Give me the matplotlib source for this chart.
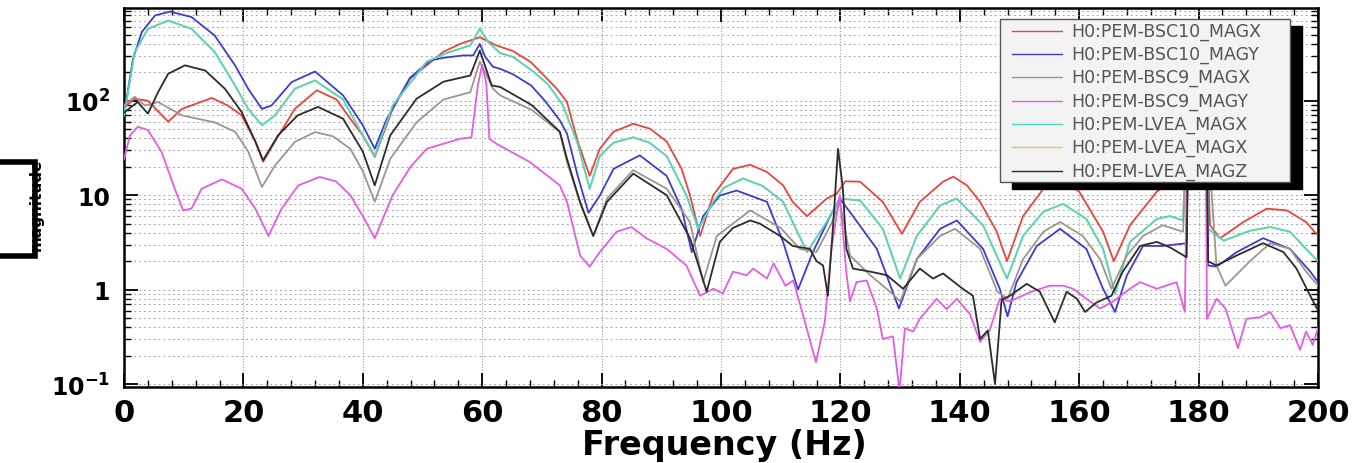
import numpy as np
import matplotlib.pyplot as plt
from matplotlib.patches import Rectangle
from matplotlib.ticker import MultipleLocator, LogLocator, FuncFormatter, NullFormatter

plt.rcParams['font.family'] = ['DejaVu Sans']
plt.rcParams['mathtext.default'] = 'bf'

# ---- valores: frequencia (Hz) e magnitude ----
freq_bsc10_x = [0, 1.8, 4, 7.4, 9.7, 14.7, 17.4, 19.7, 22, 23.3, 25.3, 28.6, 32.3, 35.6, 37.9, 40, 42,
                45, 47.9, 50.7, 53.5, 56.3, 58, 59.6, 62.4, 65.2, 68.2, 72.5, 74.2, 76, 78, 79.7, 82,
                85.3, 88.1, 90.9, 93.4, 94.8, 96.5, 98.7, 102, 104.9, 107.7, 110.4, 112, 114.4, 117.7,
                119.4, 120.8, 123.3, 127.1, 130.3, 133.3, 137.2, 138.9, 141.2, 143.4, 146.2, 147.9,
                150.6, 154, 157, 160, 164, 165.8, 168.5, 173, 175.5, 177.4, 178.2, 180, 181.3, 181.9,
                183.6, 187.5, 191.4, 194.8, 198, 199.7, 200]
mag_bsc10_x = [85, 105, 100, 60, 82, 107, 89, 70, 37, 22.6, 37, 82, 129, 103, 64.5, 43, 25.5,
               82, 171, 237, 330, 400, 435, 470, 385, 335, 255, 134, 97, 37, 16, 31, 47,
               57, 50.6, 37, 19, 10, 3.7, 10, 19, 21, 17.6, 12.7, 8.5, 6, 9.2,
               10.4, 14, 13.9, 8.5, 3.9, 8.5, 13.9, 15.7, 12.7, 8.5, 4.1, 2,
               6, 11.7, 15, 10.9, 4.1, 2.0, 4.8, 10.9, 14, 12, 80, 120, 80, 4.8,
               3.5, 5.2, 7.2, 6.9, 5.2, 3.9, 3.8]

freq_bsc10_y = [0, 1.5, 3, 5.2, 7.7, 11.3, 15.2, 18.6, 20.8, 23.1, 24.7, 28.1, 32, 36.7, 40, 42, 44,
                47.9, 51.3, 53.5, 56.8, 58.5, 59.6, 60.5, 61.8, 63, 65.2, 68.2, 70.5, 73, 74.2, 76,
                77.8, 79.7, 82, 86.4, 90.9, 93.4, 95.1, 97, 99.8, 102.6, 107.7, 110.4, 112.9, 115.4,
                118.3, 119.9, 122.1, 126.1, 129.8, 132.8, 136.7, 139.5, 143.9, 146.7, 148, 149.5,
                152.9, 156.8, 161.2, 164, 166, 168, 170.7, 174, 178, 178.3, 180, 181.3, 181.6, 183,
                186.4, 190.8, 195.3, 198.7, 200]
mag_bsc10_y = [70, 278, 537, 800, 880, 770, 490, 237, 134, 82, 89, 158, 204, 114, 55, 31, 64,
               175, 267, 285, 302, 302, 400, 292, 229, 218, 190, 145, 100, 62, 45, 16,
               6.5, 9.9, 19, 26.4, 16, 7.2, 2.5, 6, 9.9, 11.2, 8.5, 3.2, 1.0, 2.5,
               6, 9.2, 6, 2.7, 0.63, 2.1, 4.4, 5.4, 2.7, 1.02, 0.52, 1.2,
               2.9, 4.4, 2.7, 1.02, 0.58, 1.42, 2.9, 2.9, 3.1, 80, 120, 80, 1.8, 1.75,
               2.5, 3.5, 2.7, 1.55, 1.2]

freq_bsc9_x = [0, 1.8, 3.5, 5.7, 9.7, 15.2, 18.6, 20.8, 23.1, 25.3, 28.6, 32, 35, 37.9, 40, 42, 44.6,
               49, 53.5, 58, 59.6, 61.8, 63, 68.3, 73, 74.2, 76, 78.6, 80.9, 85.3, 90.9, 94.8, 97,
               99.3, 104.9, 110, 113.2, 116, 118.5, 119.9, 121.6, 125, 128.3, 130, 132.8, 136.7,
               139.2, 143.4, 146.3, 148, 150.6, 154, 156.8, 160.6, 163.5, 165.4, 168, 170.7, 174,
               177.4, 178.1, 180, 181.3, 183, 184.5, 188.6, 192, 195.3, 198, 200]
mag_bsc9_x = [90, 110, 89, 97, 70, 59, 47, 29, 12.2, 20.6, 36.6, 46.6, 42, 31, 18, 8.5, 24.3,
              59, 103, 123, 260, 134, 114, 80, 46.6, 22.4, 10, 3.7, 9.2, 18.4, 11.7, 5.2, 1.2,
              3.7, 6.9, 4.5, 2.7, 2.5, 5, 8.5, 2.3, 1.42, 0.95, 0.75, 2.1, 3.7,
              4.4, 2.7, 0.95, 0.8, 2.1, 4.1, 5.2, 3.7, 2.1, 1.02, 2.3, 3.7, 4.8,
              4.1, 70, 110, 70, 1.8, 1.1, 2.0, 3.1, 2.7, 1.55, 1.1]

freq_bsc9_y = [0, 1, 2.3, 4, 6.3, 8.5, 9.9, 11.3, 13, 16.4, 19.7, 22, 24.2, 26.4, 29.2, 32.8, 35.5,
               37.9, 40, 42, 45, 48, 50.7, 56.3, 58.2, 59.3, 60, 60.7, 61.2, 62.4, 68, 73, 74.2,
               76.4, 78, 79.7, 82.5, 85, 87.5, 90.9, 94.2, 96.5, 98.7, 100.3, 102, 104.3, 105.4,
               107.7, 108.8, 110.8, 112.1, 113.7, 115.9, 117.4, 118.5, 119.9, 121, 121.6, 122.7,
               124.4, 126.1, 127.1, 128.8, 129.9, 130.8, 132.2, 133.3, 136.1, 137.8, 139.5, 141.7,
               143.4, 145, 146.7, 148.4, 151.8, 155.1, 157.3, 159, 161.2, 163.5, 165.7, 168.5,
               170.2, 173, 176.3, 177.7, 178.1, 180, 181.2, 181.4, 183, 184.5, 186.6, 188, 190.3,
               192, 193.7, 195.3, 197, 198, 199.1, 200]
mag_bsc9_y = [24, 43, 53, 49, 28.6, 11.7, 6.9, 7.2, 11.7, 14.7, 11.7, 7.2, 3.7, 7.2, 12.7, 15.6, 14,
              10, 6, 3.5, 10, 20, 31, 39.6, 41, 150, 240, 150, 39.6, 35, 22.4, 12.7, 8.5,
              2.3, 1.75, 2.5, 4.1, 4.6, 3.5, 2.7, 1.8, 0.86, 1.02, 0.91, 1.55, 1.42, 1.67,
              1.31, 1.9, 1.1, 1.25, 0.55, 0.17, 0.46, 2.7, 10, 1.5, 0.75, 1.2,
              1.25, 0.63, 0.30, 0.32, 0.085, 0.39, 0.36, 0.49, 0.80, 0.62, 0.80, 0.55,
              0.28, 0.37, 0.80, 0.75, 0.94, 1.1, 1.1, 1.02, 0.80, 0.63, 0.75, 1.02,
              1.2, 1.02, 1.2, 0.58, 50, 90, 50, 0.49, 0.80, 0.63, 0.24, 0.49, 0.51,
              0.58, 0.39, 0.42, 0.23, 0.36, 0.26, 0.39]

freq_lvea_x = [0, 1.8, 4, 7.4, 11.3, 15.2, 18.6, 20.8, 23.1, 25.3, 28.6, 32, 36.7, 40, 42, 45, 50.7,
               54, 58, 59.6, 61, 63, 65.2, 68.5, 71, 73.5, 76, 78, 79.7, 82, 85.3, 88, 90.9, 94.2,
               96.2, 98.7, 100.5, 103.7, 107, 110.4, 114.4, 117.7, 119.9, 123.3, 127.1, 130, 132.8,
               136.7, 139.5, 143.9, 147.9, 150.6, 154, 157.3, 161.2, 164, 166, 168.5, 173, 175.2,
               177.4, 178.1, 180, 181.3, 181.6, 184.2, 188.6, 192, 195.3, 198, 200]
mag_lvea_x = [70, 328, 578, 707, 578, 328, 145, 82, 55, 70, 134, 164, 103, 43, 26, 89, 259,
              320, 385, 578, 420, 320, 290, 205, 150, 90, 35, 11.7, 26, 36, 41, 36, 26, 10,
              4.4, 8.5, 12, 15, 12.5, 8.5, 2.5, 5.2, 9.2, 8.8, 4.4, 1.31, 3.7,
              7.8, 9.2, 4.8, 1.31, 3.7, 6.7, 8.1, 5.6, 2.7, 0.9, 3.2, 5.6, 6,
              5.4, 90, 130, 90, 4.4, 3.3, 4.2, 4.6, 4.1, 2.7, 2.0]

# segundo canal LVEA_MAGX: fica escondido sob a curva ciano
freq_lvea_x2 = freq_lvea_x
mag_lvea_x2 = mag_lvea_x

freq_lvea_z = [0, 2.3, 4, 5.7, 7.4, 10.2, 13.6, 16.9, 19.7, 22, 23.3, 25.8, 29.1, 32.5, 36.7, 40, 42,
               44.6, 49, 53.5, 58, 59.6, 61.6, 63, 68.3, 73, 74.2, 76.5, 78.6, 80.9, 85.3, 90.9,
               94.8, 97.6, 99.8, 102, 104.9, 106.5, 109.9, 112, 114.9, 116, 117.1, 117.9, 118.8,
               119.6, 120.4, 121, 122.1, 125, 127.8, 130.5, 133.3, 135.5, 137.2, 140.5, 142.2,
               143.4, 144.7, 145.9, 147, 148.4, 151.2, 153.4, 155.9, 157.9, 159.6, 161, 162.9,
               165.4, 167.3, 170.2, 173, 175.2, 178, 178.3, 180, 181.3, 181.6, 183, 186.4, 190.8,
               194.2, 196.4, 198.7, 200]
mag_lvea_z = [75, 97, 73, 123, 193, 237, 209, 134, 76, 37, 23.4, 43, 70, 86, 64.5, 29, 12.7,
              43, 105, 159, 185, 340, 145, 140, 90, 47, 24.3, 8, 3.7, 8.5, 16.9, 10,
              3.5, 0.95, 3.2, 4.5, 5.4, 5.0, 3.7, 2.9, 2.7, 2.0, 1.8, 0.86, 5,
              31, 12, 2.7, 1.67, 1.55, 1.42, 1.02, 1.67, 1.31, 1.48, 1.02, 0.86,
              0.30, 0.37, 0.10, 0.78, 0.86, 1.15, 0.95, 0.45, 0.95, 0.80, 0.58, 0.73,
              0.86, 1.55, 2.9, 3.2, 2.8, 2.2, 70, 100, 70, 2.0, 1.8, 2.3, 3.1,
              2.5, 1.67, 0.86, 0.6]

nomes = ['H0:PEM-BSC10_MAGX', 'H0:PEM-BSC10_MAGY', 'H0:PEM-BSC9_MAGX', 'H0:PEM-BSC9_MAGY',
         'H0:PEM-LVEA_MAGX', 'H0:PEM-LVEA_MAGX', 'H0:PEM-LVEA_MAGZ']
cores = ['#e8453c', '#3c3cd2', '#9d968c', '#e45ce4', '#4fd8c2', '#f0c25a', '#2c2c2c']
x_ticks = [0, 20, 40, 60, 80, 100, 120, 140, 160, 180, 200]


def ytick_fmt(v, pos):
    rotulos = {0.1: r'$10^{-1}$', 1: '1', 10: '10', 100: r'$10^{2}$'}
    for k, s in rotulos.items():
        if np.isclose(v, k):
            return s
    return ''


def plot():
    W, H = 1367, 464
    fig = plt.figure(figsize=(W / 100, H / 100), dpi=100)
    # moldura do grafico em pixels: x 124..1318, y 9..388
    ax = fig.add_axes([124 / W, 1 - 388 / H, (1318 - 124) / W, (388 - 9) / H])

    series = [(freq_bsc10_x, mag_bsc10_x), (freq_bsc10_y, mag_bsc10_y),
              (freq_bsc9_x, mag_bsc9_x), (freq_bsc9_y, mag_bsc9_y),
              (freq_lvea_x, mag_lvea_x), (freq_lvea_x2, mag_lvea_x2),
              (freq_lvea_z, mag_lvea_z)]
    # o canal laranja fica por baixo de todos
    ordem = [3, 4, 6, 7, 5, 2, 8]
    for (f, m), c, z in zip(series, cores, ordem):
        ax.plot(f, m, color=c, lw=1.3, zorder=z)

    ax.set_yscale('log')
    ax.set_xlim(0, 200)
    ax.set_ylim(0.093, 960)

    ax.xaxis.set_major_locator(MultipleLocator(20))
    ax.xaxis.set_minor_locator(MultipleLocator(4))
    ax.set_xticks(x_ticks)
    ax.yaxis.set_major_locator(LogLocator(base=10))
    ax.yaxis.set_minor_locator(LogLocator(base=10, subs=np.arange(2, 10)))
    ax.yaxis.set_major_formatter(FuncFormatter(ytick_fmt))
    ax.yaxis.set_minor_formatter(NullFormatter())

    ax.tick_params(which='both', direction='in', top=True, right=True, color='black')
    ax.tick_params(which='major', length=10, width=1.3)
    ax.tick_params(which='minor', length=5, width=1.0)
    ax.tick_params(axis='x', which='major', labelsize=22, pad=8)
    ax.tick_params(axis='y', which='major', labelsize=17, pad=10)
    for lab in ax.get_xticklabels() + ax.get_yticklabels():
        lab.set_fontweight('bold')

    ax.grid(which='major', axis='x', linestyle=(0, (1, 1.5)), color='#a0a0a0', lw=0.8)
    ax.grid(which='both', axis='y', linestyle=(0, (2, 3)), color='#a8a8a8', lw=0.7)
    for s in ax.spines.values():
        s.set_linewidth(1.8)

    ax.set_xlabel('Frequency (Hz)', fontsize=24, fontweight='bold')
    ax.xaxis.set_label_coords(0.503, -0.108)

    # legenda desenhada a mao (caixa com sombra preta, texto cortado na borda)
    x0, x1, y0, y1 = 0.7337, 0.9766, 0.541, 0.971
    sombra = Rectangle((x0 + 0.010, y0 - 0.019), x1 - x0, y1 - y0, transform=ax.transAxes,
                       facecolor='black', edgecolor='black', zorder=10, clip_on=False)
    caixa = Rectangle((x0, y0), x1 - x0, y1 - y0, transform=ax.transAxes,
                      facecolor='#f3f3f3', edgecolor='#555555', lw=1.0, zorder=11, clip_on=False)
    ax.add_patch(sombra)
    ax.add_patch(caixa)
    linhas_y = [0.940, 0.879, 0.817, 0.755, 0.694, 0.632, 0.569]
    for yy, nome, c in zip(linhas_y, nomes, cores):
        ax.plot([0.7435, 0.7853], [yy, yy], color=c, lw=1.0, transform=ax.transAxes,
                zorder=12, clip_on=False)
        t = ax.text(0.7937, yy, nome, transform=ax.transAxes, fontsize=12.5, color='#555555',
                    va='center', ha='left', zorder=12)
        t.set_clip_path(caixa)

    # rotulo do eixo y parcialmente tapado por uma caixa preta
    fig.text(36 / W, 1 - 205 / H, 'magnitude', rotation=90, fontsize=11, fontweight='bold',
             ha='center', va='center')
    fig.patches.append(Rectangle((-0.01, 1 - 257 / H), 35 / W + 0.01, 94 / H,
                                 transform=fig.transFigure, facecolor='white',
                                 edgecolor='black', lw=4, fill=False, zorder=5))

    fig.savefig('out.png', dpi=100)


if '__main__' == __name__:
    plot()
